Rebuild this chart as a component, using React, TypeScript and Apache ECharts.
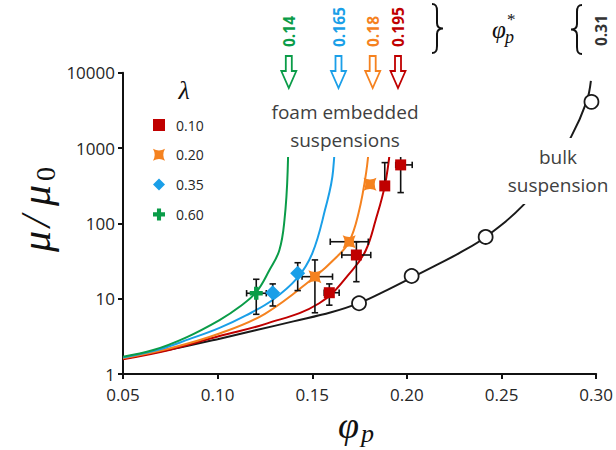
import React, { useEffect, useRef } from 'react';
import * as echarts from 'echarts';

// ---------- data ----------
const lambdaNames = ['0.10', '0.20', '0.35', '0.60'];
const lambdaColors = ['#c00000', '#f5821f', '#1a9fe8', '#0a9c48'];

// measured points (phi_p, mu/mu0)
const pointsL010 = [[0.159, 12.0], [0.1733, 38], [0.1883, 314], [0.1967, 597]];
const pointsL020 = [[0.1514, 19.6], [0.1695, 57], [0.1805, 330]];
const pointsL035 = [[0.1291, 12.0], [0.1423, 21.7]];
const pointsL060 = [[0.1204, 11.8]];
const pointsBulk = [[0.1747, 8.7], [0.2025, 20], [0.2416, 66], [0.2975, 4100]];

// error bars: [x, y, xlo, xhi, ylo, yhi]
const errorBars = [
  [0.1204, 11.8, 0.1153, 0.1257, 6.2, 18.1],
  [0.1291, 12.0, 0.1291, 0.1291, 8.0, 15.7],
  [0.1423, 21.7, 0.1423, 0.1423, 12.8, 30.0],
  [0.1514, 19.6, 0.1446, 0.1607, 6.5, 32.7],
  [0.1695, 57, 0.1595, 0.1796, 57, 57],
  [0.159, 12.0, 0.1563, 0.1642, 8.2, 15.7],
  [0.1733, 38, 0.1656, 0.1809, 16.8, 57],
  [0.1883, 314, 0.1883, 0.1883, 314, 640],
  [0.1967, 597, 0.1941, 0.2028, 256, 1000],
];

// model curves
const curveL060 = [[0.05, 1.7], [0.066, 2.08], [0.0835, 3.07], [0.101, 5.2], [0.1116, 7.8], [0.1204, 12.2], [0.1274, 24], [0.1326, 44], [0.1353, 110], [0.137, 500], [0.1378, 10000]];
const curveL035 = [[0.05, 1.66], [0.07, 2.15], [0.085, 2.9], [0.101, 4.1], [0.115, 6.0], [0.129, 9.6], [0.142, 18.7], [0.15, 40], [0.1567, 150], [0.161, 500], [0.1633, 10000]];
const curveL020 = [[0.05, 1.62], [0.075, 2.2], [0.101, 3.45], [0.125, 6.3], [0.1514, 19.6], [0.163, 36], [0.1695, 57], [0.1744, 135], [0.1785, 480], [0.1805, 1500], [0.1825, 10000]];
const curveL010 = [[0.05, 1.57], [0.075, 2.1], [0.101, 3.2], [0.125, 4.6], [0.1537, 8.7], [0.1712, 24], [0.1783, 44], [0.1835, 111], [0.1883, 314], [0.1912, 1000], [0.1947, 10000]];
const curveBulk = [[0.05, 1.6], [0.08, 2.25], [0.1, 2.9], [0.12, 3.8], [0.14, 5.0], [0.16, 6.6], [0.175, 8.8], [0.19, 13.2], [0.2025, 19], [0.215, 27.5], [0.2274, 40], [0.2416, 66], [0.2616, 176], [0.275, 480], [0.2868, 1417], [0.2949, 4100], [0.2972, 7800]];

// threshold annotations
const thresholdLabels = ['0.14', '0.165', '0.18', '0.195'];
const bulkThreshold = '0.31';

const xTicks = { min: 0.05, max: 0.3, interval: 0.05 };
const yTicks = { min: 1, max: 10000 };

// ---------- shapes ----------
echarts.graphic.registerShape(
  'braceRight',
  echarts.graphic.extendPath('M0,0 C4,0 5,2 5,7 L5,19 C5,23 7,24.5 11,24.5 C7,24.5 5,26 5,30 L5,42 C5,47 4,49 0,49', {})
);
echarts.graphic.registerShape(
  'braceLeft',
  echarts.graphic.extendPath('M11,0 C7,0 6,2 6,7 L6,19 C6,23 4,24.5 0,24.5 C4,24.5 6,26 6,30 L6,42 C6,47 7,49 11,49', {})
);

const xSquare = 'path://M0,0 Q5,2.8 10,0 Q7.2,5 10,10 Q5,7.2 0,10 Q2.8,5 0,0 Z';
const plusSym = 'path://M3.3,0 H6.7 V3.3 H10 V6.7 H6.7 V10 H3.3 V6.7 H0 V3.3 H3.3 Z';

const arrowX = [288.8, 338.5, 372.7, 398];

function arrow(cx: number, color: string) {
  return {
    type: 'polygon',
    z: 60,
    shape: {
      points: [
        [cx - 3, 56], [cx + 3, 56], [cx + 3, 71], [cx + 7.5, 71], [cx, 88], [cx - 7.5, 71], [cx - 3, 71],
      ],
    },
    style: { fill: '#fff', stroke: color, lineWidth: 1.8 },
  };
}

function vText(x: number, y: number, text: string, color: string) {
  return {
    type: 'text',
    z: 60,
    x,
    y,
    rotation: Math.PI / 2,
    style: {
      text,
      fill: color,
      font: 'bold 15.5px "Open Sans"',
      align: 'left',
      verticalAlign: 'middle',
      textAlign: 'left',
      textVerticalAlign: 'middle',
    },
  };
}

function txt(x: number, y: number, text: string, font: string, fill = '#262626', align = 'left', extra: any = {}) {
  return {
    type: 'text',
    z: 60,
    x,
    y,
    style: {
      text,
      font,
      fill,
      align,
      verticalAlign: 'middle',
      textAlign: align,
      textVerticalAlign: 'middle',
      ...extra,
    },
  };
}

const mathFont = '"Liberation Serif", "DejaVu Serif", serif';

export default function App() {
  const ref = useRef<HTMLDivElement>(null);
  useEffect(() => {
    if (!ref.current) return;
    const chart = echarts.init(ref.current, null, { renderer: 'svg' });

    const errorRender = (params: any, api: any) => {
      const x = api.value(0), y = api.value(1);
      const xlo = api.value(2), xhi = api.value(3), ylo = api.value(4), yhi = api.value(5);
      const c = api.coord([x, y]);
      const cap = 3.2;
      const style = { stroke: '#111', lineWidth: 1.6 };
      const ch: any[] = [];
      const line = (x1: number, y1: number, x2: number, y2: number) =>
        ch.push({ type: 'line', shape: { x1, y1, x2, y2 }, style });
      if (ylo < y) {
        const p = api.coord([x, ylo]);
        line(c[0], c[1], p[0], p[1]);
        line(p[0] - cap, p[1], p[0] + cap, p[1]);
      }
      if (yhi > y) {
        const p = api.coord([x, yhi]);
        line(c[0], c[1], p[0], p[1]);
        line(p[0] - cap, p[1], p[0] + cap, p[1]);
      }
      if (xlo < x) {
        const p = api.coord([xlo, y]);
        line(c[0], c[1], p[0], p[1]);
        line(p[0], p[1] - cap, p[0], p[1] + cap);
      }
      if (xhi > x) {
        const p = api.coord([xhi, y]);
        line(c[0], c[1], p[0], p[1]);
        line(p[0], p[1] - cap, p[0], p[1] + cap);
      }
      return { type: 'group', children: ch };
    };

    const curveSeries = (name: string, data: number[][], color: string) => ({
      name,
      type: 'line',
      data,
      showSymbol: false,
      smooth: 0.4,
      z: 3,
      lineStyle: { color, width: 2 },
      silent: true,
    });

    const pointSeries = (name: string, data: number[][], color: string, symbol: string, size: number) => ({
      name,
      type: 'scatter',
      data,
      symbol,
      symbolSize: size,
      z: 6,
      itemStyle: { color, opacity: 1 },
    });

    const option: any = {
      animation: false,
      backgroundColor: '#fff',
      grid: { left: 123, right: 18, top: 72.7, bottom: 76 },
      xAxis: {
        type: 'value',
        min: xTicks.min,
        max: xTicks.max,
        interval: xTicks.interval,
        axisLine: { show: true, onZero: false, lineStyle: { color: '#111', width: 2 } },
        axisTick: { show: true, length: 5, lineStyle: { color: '#111', width: 2 } },
        axisLabel: {
          formatter: (v: number) => v.toFixed(2),
          fontSize: 17,
          fontFamily: 'Open Sans',
          color: '#262626',
          margin: 12,
          showMaxLabel: true,
          showMinLabel: true,
        },
        splitLine: { show: false },
      },
      yAxis: {
        type: 'log',
        logBase: 10,
        min: yTicks.min,
        max: yTicks.max,
        axisLine: { show: true, onZero: false, lineStyle: { color: '#111', width: 2 } },
        axisTick: { show: true, length: 5, lineStyle: { color: '#111', width: 2 } },
        minorTick: { show: false },
        axisLabel: {
          formatter: (v: number) => String(Math.round(v)),
          fontSize: 17,
          fontFamily: 'Open Sans',
          color: '#262626',
          margin: 8,
        },
        splitLine: { show: false },
      },
      legend: {
        data: lambdaNames,
        orient: 'vertical',
        left: 148,
        top: 113,
        itemWidth: 12,
        itemHeight: 12,
        itemGap: 15.8,
        selectedMode: false,
        textStyle: { fontSize: 14, color: '#262626', fontFamily: 'Open Sans', padding: [0, 0, 0, 6] },
      },
      series: [
        curveSeries('fit-bulk', curveBulk, '#1a1a1a'),
        curveSeries('fit-0.10', curveL010, lambdaColors[0]),
        curveSeries('fit-0.20', curveL020, lambdaColors[1]),
        curveSeries('fit-0.35', curveL035, lambdaColors[2]),
        curveSeries('fit-0.60', curveL060, lambdaColors[3]),
        {
          name: 'errors',
          type: 'custom',
          data: errorBars,
          renderItem: errorRender,
          encode: { x: 0, y: 1 },
          z: 5,
          silent: true,
        },
        {
          name: 'bulk',
          type: 'scatter',
          data: pointsBulk,
          symbol: 'circle',
          symbolSize: 14,
          z: 6,
          itemStyle: { color: '#fff', borderColor: '#1a1a1a', borderWidth: 1.8, opacity: 1 },
        },
        pointSeries(lambdaNames[0], pointsL010, lambdaColors[0], 'rect', 11),
        pointSeries(lambdaNames[1], pointsL020, lambdaColors[1], xSquare, 13),
        pointSeries(lambdaNames[2], pointsL035, lambdaColors[2], 'diamond', 15),
        pointSeries(lambdaNames[3], pointsL060, lambdaColors[3], plusSym, 13),
      ],
      graphic: {
        elements: [
          // white boxes behind the annotations
          { type: 'rect', z: 50, shape: { x: 262, y: 66, width: 163, height: 91 }, style: { fill: '#fff' } },
          { type: 'rect', z: 50, shape: { x: 503, y: 138, width: 110, height: 66 }, style: { fill: '#fff' } },
          {
            type: 'text', z: 60, x: 345, y: 125.5,
            style: {
              text: 'foam embedded\nsuspensions', font: '19px "Open Sans"', fill: '#404040', lineHeight: 28,
              align: 'center', verticalAlign: 'middle', textAlign: 'center', textVerticalAlign: 'middle',
            },
          },
          {
            type: 'text', z: 60, x: 558, y: 171,
            style: {
              text: 'bulk\nsuspension', font: '19px "Open Sans"', fill: '#404040', lineHeight: 28,
              align: 'center', verticalAlign: 'middle', textAlign: 'center', textVerticalAlign: 'middle',
            },
          },
          // arrows and threshold labels
          arrow(arrowX[0], lambdaColors[3]),
          arrow(arrowX[1], lambdaColors[2]),
          arrow(arrowX[2], lambdaColors[1]),
          arrow(arrowX[3], lambdaColors[0]),
          vText(arrowX[0], 47, thresholdLabels[0], lambdaColors[3]),
          vText(arrowX[1], 47, thresholdLabels[1], lambdaColors[2]),
          vText(arrowX[2], 47, thresholdLabels[2], lambdaColors[1]),
          vText(arrowX[3], 47, thresholdLabels[3], lambdaColors[0]),
          vText(601, 46, bulkThreshold, '#333'),
          { type: 'braceRight', z: 60, x: 432, y: 4, style: { fill: 'none', stroke: '#111', lineWidth: 2 } },
          { type: 'braceLeft', z: 60, x: 571, y: 5, style: { fill: 'none', stroke: '#111', lineWidth: 2 } },
          // phi_p^*
          txt(492, 29, 'φ', `italic 25px ${mathFont}`, '#111'),
          txt(505, 37, 'p', `italic 18px ${mathFont}`, '#111'),
          txt(507, 19, '*', `17px ${mathFont}`, '#111'),
          // legend title
          txt(184, 90, 'λ', `italic 26px ${mathFont}`, '#111', 'center'),
          // x axis title
          txt(338, 425, 'φ', `italic 38px ${mathFont}`, '#111'),
          txt(361, 433, 'p', `italic 26px ${mathFont}`, '#111'),
          // y axis title
          {
            type: 'group', x: 36, y: 252, rotation: Math.PI / 2,
            children: [
              txt(0, 0, 'μ', `italic 42px ${mathFont}`, '#111'),
              txt(25, 0, '/', `italic 42px ${mathFont}`, '#111'),
              txt(46, 0, 'μ', `italic 42px ${mathFont}`, '#111'),
              txt(71, 9, '0', `28px ${mathFont}`, '#111'),
            ],
          },
        ],
      },
    };
    chart.setOption(option);
    return () => chart.dispose();
  }, []);
  return <div ref={ref} style={{ position: 'fixed', left: 0, top: 0, width: 616, height: 450 }} />;
}
